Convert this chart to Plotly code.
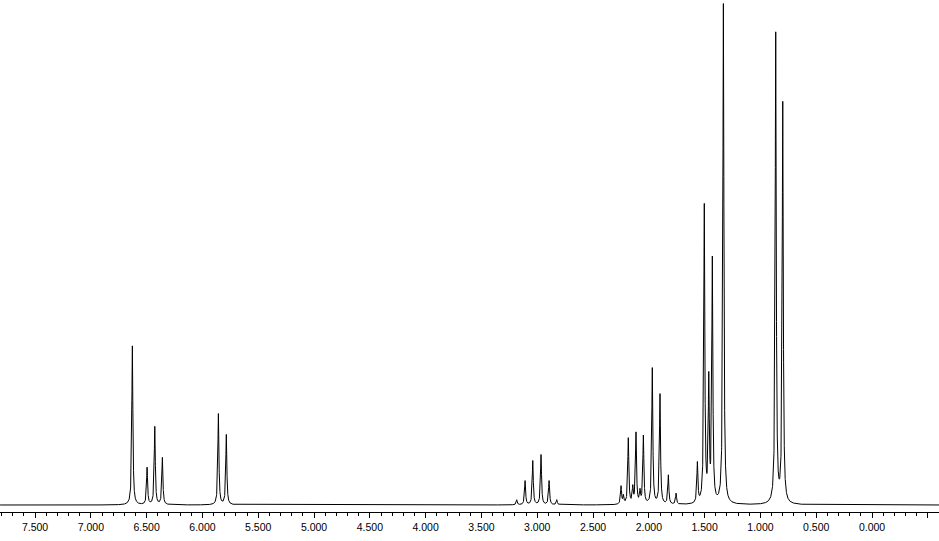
import numpy as np
import plotly.graph_objects as go

# Peak list (chemical shift in ppm, height in display units)
peak_ppm = [6.628, 6.496, 6.427, 6.359, 5.857, 5.786,
            3.184, 3.109, 3.040, 2.966, 2.894, 2.825,
            2.249, 2.228, 2.184, 2.144, 2.115, 2.079, 2.049,
            1.969, 1.900, 1.825, 1.756, 1.565, 1.503, 1.463, 1.431, 1.332,
            0.863, 0.800]
peak_height = [159, 37, 78, 47, 91, 70,
               5, 24, 44, 50, 24, 5,
               18, 8, 66, 16, 71, 12, 68,
               136, 110, 29, 11, 40, 297, 120, 242, 500,
               470, 400]

# Axis ticks
tick_values = [7.5, 7.0, 6.5, 6.0, 5.5, 5.0, 4.5, 4.0, 3.5, 3.0, 2.5, 2.0, 1.5, 1.0, 0.5, 0.0, -0.5]
tick_labels = ["7.500", "7.000", "6.500", "6.000", "5.500", "5.000", "4.500", "4.000",
               "3.500", "3.000", "2.500", "2.000", "1.500", "1.000", "0.500", "0.000", ""]

x_min, x_max = -0.600, 7.814
hwhm = 0.0055  # Lorentzian half width (ppm)

ppm = np.arange(x_min, x_max, 0.0005)
intensity = np.zeros_like(ppm)
for c, h in zip(peak_ppm, peak_height):
    intensity += h / (1.0 + ((ppm - c) / hwhm) ** 2)

fig = go.Figure()
fig.add_trace(go.Scatter(x=ppm, y=intensity, mode="lines",
                         line=dict(color="black", width=1), hoverinfo="skip",
                         showlegend=False))

fig.update_layout(
    width=939, height=541,
    margin=dict(l=0, r=0, t=0, b=29, pad=0, autoexpand=False),
    paper_bgcolor="white", plot_bgcolor="white",
    font=dict(family="Liberation Sans, Arial, sans-serif", size=10.5, color="black"),
)
fig.update_xaxes(
    range=[x_max, x_min], automargin=False,
    tickmode="array", tickvals=tick_values, ticktext=tick_labels,
    ticks="outside", ticklen=5, tickwidth=1, tickcolor="black",
    showline=True, linecolor="black", linewidth=1,
    showgrid=False, zeroline=False,
    minor=dict(tickmode="linear", tick0=0, dtick=0.1, ticks="outside",
               ticklen=3, tickwidth=1, tickcolor="black", showgrid=False),
)
fig.update_yaxes(range=[-7, 505], visible=False, showgrid=False, zeroline=False,
                 automargin=False)

fig.write_html("out.html", config={"displayModeBar": False},
               post_script="document.body.style.margin='0';document.body.style.overflow='hidden';")
